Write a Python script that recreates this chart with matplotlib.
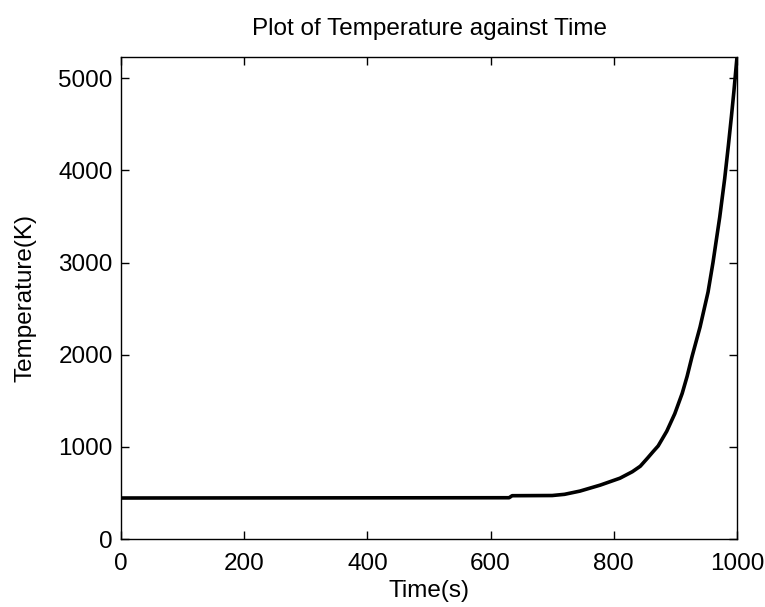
import numpy as np
import matplotlib.pyplot as plt

# values
time_s = [0, 630, 635, 700, 720, 745, 778, 810, 830, 843, 855, 864, 872, 886,
          899, 911, 919, 927, 940, 953, 961, 972, 980, 986, 991, 995, 1000]
temp_k = [445, 448, 470, 472, 485, 520, 585, 660, 730, 790, 880, 950, 1010, 1170,
          1360, 1580, 1765, 1980, 2300, 2680, 3000, 3495, 3910, 4270, 4590, 4860, 5230]

xticks = [0, 200, 400, 600, 800, 1000]
yticks = [0, 1000, 2000, 3000, 4000, 5000]

plt.rcParams['font.family'] = ['Liberation Sans', 'DejaVu Sans']

fig = plt.figure(figsize=(7.65, 6.07), dpi=100)
ax = fig.add_axes([0.1582, 0.112, 0.8052, 0.794])

ax.plot(time_s, temp_k, color="black", linewidth=2.6, solid_capstyle="butt")

ax.set_xlim(0, 1000)
ax.set_ylim(0, 5230)
ax.set_xticks(xticks)
ax.set_yticks(yticks)
ax.tick_params(direction="in", length=6, width=1, top=True, right=True,
               labelsize=17.5)
ax.tick_params(axis="x", pad=10)
ax.tick_params(axis="y", pad=6)
for s in ax.spines.values():
    s.set_linewidth(1)

ax.set_title("Plot of Temperature against Time", fontsize=17.5, pad=16)
ax.set_xlabel("Time(s)", fontsize=17.5, labelpad=4)
ax.set_ylabel("Temperature(K)", fontsize=17.5, labelpad=16)

fig.savefig("out.png", dpi=100)
